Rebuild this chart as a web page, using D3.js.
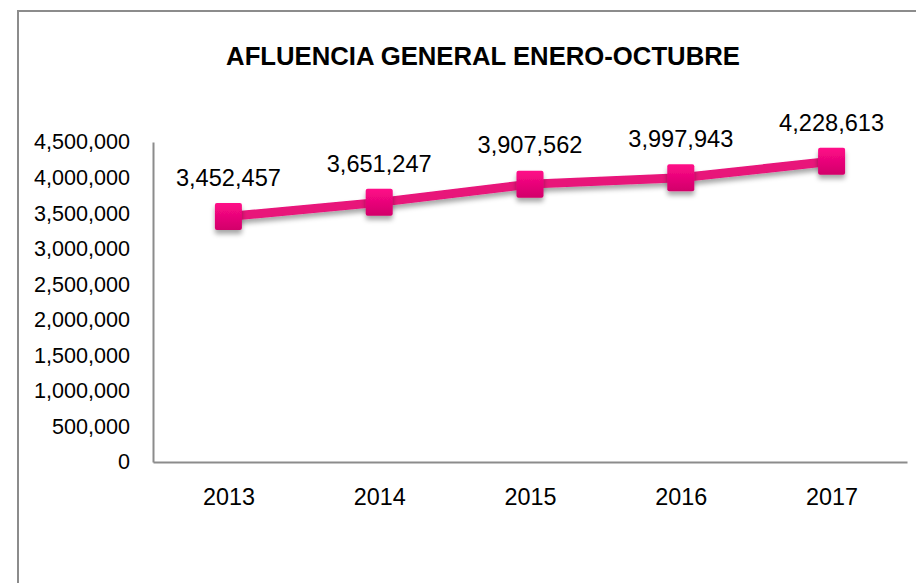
<!DOCTYPE html>
<html>
<head>
<meta charset="utf-8">
<script src="https://cdn.jsdelivr.net/npm/d3@7"></script>
<style>
  body { margin: 0; background: #fff; }
  text { font-family: "Liberation Sans", Arial, sans-serif; fill: #000; }
</style>
</head>
<body>
<div id="chart"></div>
<script>
// data
var years = ["2013", "2014", "2015", "2016", "2017"];
var visitors = [3452457, 3651247, 3907562, 3997943, 4228613];
var yTicks = [0, 500000, 1000000, 1500000, 2000000, 2500000, 3000000, 3500000, 4000000, 4500000];
var title = "AFLUENCIA GENERAL ENERO-OCTUBRE";

var W = 916, H = 583;
var margin = { top: 142, right: 9, bottom: 121, left: 153 },
    width = W - margin.left - margin.right,
    height = H - margin.top - margin.bottom;

var root = d3.select("#chart").append("svg")
    .attr("width", W)
    .attr("height", H);

// scale a text selection's font size so that one sample string is a given width
function fitFont(sel, sample, target, base, bold) {
    var probe = root.append("text").style("font-size", base + "px").text(sample);
    if (bold) probe.style("font-weight", "bold");
    var w = probe.node().getComputedTextLength();
    probe.remove();
    sel.style("font-size", (base * target / w).toFixed(2) + "px");
}

var defs = root.append("defs");
var grad = defs.append("linearGradient")
    .attr("id", "mk").attr("x1", 0).attr("y1", 0).attr("x2", 0).attr("y2", 1);
grad.append("stop").attr("offset", "0%").attr("stop-color", "#ff0a88");
grad.append("stop").attr("offset", "100%").attr("stop-color", "#d2006a");
var shadow = defs.append("filter").attr("id", "sh")
    .attr("x", "-50%").attr("y", "-50%").attr("width", "200%").attr("height", "200%");
shadow.append("feDropShadow")
    .attr("dx", 0).attr("dy", 4).attr("stdDeviation", 2.5)
    .attr("flood-color", "#000").attr("flood-opacity", 0.35);

// outer frame
root.append("rect")
    .attr("x", 18).attr("y", 11)
    .attr("width", W + 10).attr("height", H + 10)
    .attr("fill", "none")
    .attr("stroke", "#8c8c8c")
    .attr("stroke-width", 2);

// title
var titleText = root.append("text")
    .attr("x", 483).attr("y", 65)
    .attr("text-anchor", "middle")
    .style("font-weight", "bold")
    .text(title);
fitFont(titleText, title, 514, 24, true);

var svg = root.append("g")
    .attr("transform", "translate(" + margin.left + "," + margin.top + ")");

var x = d3.scalePoint()
    .domain(years)
    .range([0, width])
    .padding(0.5);

var y = d3.scaleLinear()
    .domain([0, 4500000])
    .range([height, 0]);

// y axis
var yAxis = svg.append("g")
    .call(d3.axisLeft(y).tickValues(yTicks).tickFormat(d3.format(",")).tickSize(0).tickPadding(23));
yAxis.select(".domain").attr("stroke", "#8c8c8c").attr("stroke-width", 2);
yAxis.selectAll("text").style("font-family", "'Liberation Sans', Arial, sans-serif");
fitFont(yAxis.selectAll("text"), "4,500,000", 96, 20);

// x axis
var xAxis = svg.append("g")
    .attr("transform", "translate(0," + height + ")")
    .call(d3.axisBottom(x).tickSize(0).tickPadding(26));
xAxis.select(".domain").attr("stroke", "#8c8c8c").attr("stroke-width", 2);
xAxis.selectAll("text").style("font-family", "'Liberation Sans', Arial, sans-serif");
fitFont(xAxis.selectAll("text"), "2013", 52, 22);

var pts = years.map(function (d, i) { return { year: d, value: visitors[i] }; });

// line
var line = d3.line()
    .x(function (d) { return x(d.year); })
    .y(function (d) { return y(d.value); });

svg.append("path")
    .datum(pts)
    .attr("d", line)
    .attr("fill", "none")
    .attr("stroke", "#e8127a")
    .attr("stroke-width", 9)
    .attr("filter", "url(#sh)");

// markers
var ms = 27;
svg.selectAll(".marker")
    .data(pts)
    .enter()
    .append("rect")
    .attr("class", "marker")
    .attr("x", function (d) { return x(d.year) - ms / 2; })
    .attr("y", function (d) { return y(d.value) - ms / 2; })
    .attr("width", ms)
    .attr("height", ms)
    .attr("rx", 2)
    .attr("fill", "url(#mk)")
    .attr("filter", "url(#sh)");

// data labels
var labels = svg.selectAll(".lbl")
    .data(pts)
    .enter()
    .append("text")
    .attr("class", "lbl")
    .attr("x", function (d) { return x(d.year); })
    .attr("y", function (d) { return y(d.value) - 39; })
    .attr("dy", "0.35em")
    .attr("text-anchor", "middle")
    .text(function (d) { return d3.format(",")(d.value); });
fitFont(labels, "3,452,457", 105, 23);
</script>
</body>
</html>
